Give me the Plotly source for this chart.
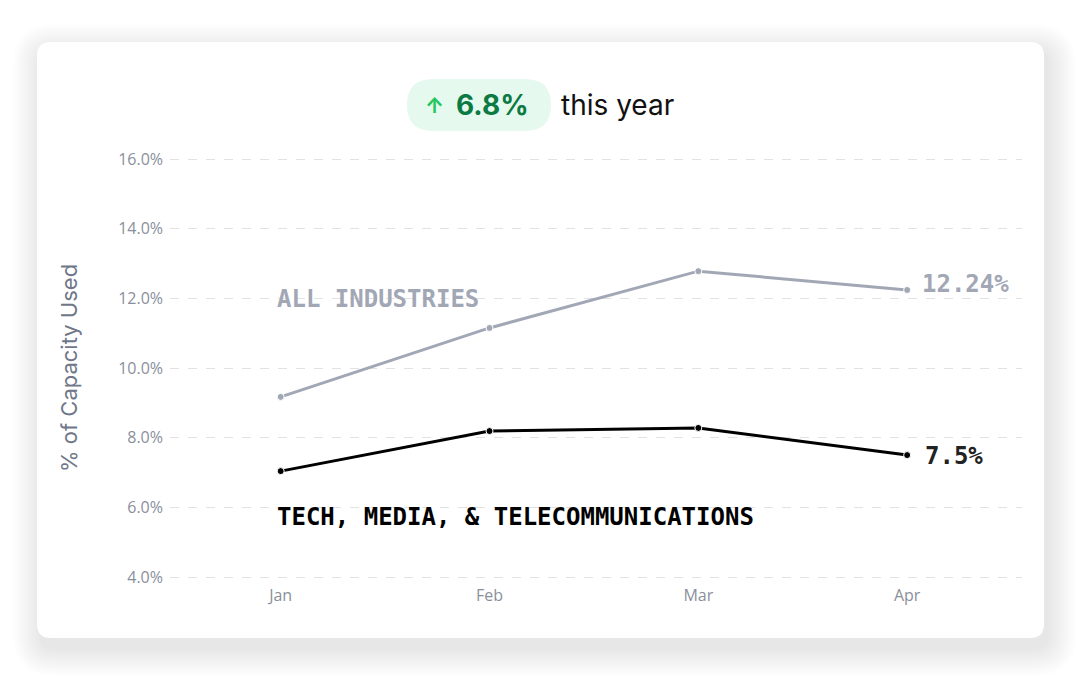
import plotly.graph_objects as go

# --- Data ---
months = ["Jan", "Feb", "Mar", "Apr"]
all_industries = [9.17, 11.15, 12.78, 12.24]
tech_media_telecom = [7.04, 8.19, 8.28, 7.5]

y_ticks = [4, 6, 8, 10, 12, 14, 16]
y_labels = [f"{v:.1f}%" for v in y_ticks]
headline_change = "6.8%"

# --- Plot area in pixels (used to place card / header in paper coords) ---
W, H = 1080, 682
Y16, Y4 = 159, 577
PPU = (Y4 - Y16) / 12
PL, PR, PT, PB = 170, 1022, 155, 581
y_range = [4 - (PB - Y4) / PPU, 16 + (Y16 - PT) / PPU]


def px(x):
    return (x - PL) / (PR - PL)


def py(y):
    return (PB - y) / (PB - PT)


def rounded_rect(x0, y0, x1, y1, r):
    # path in paper coords for a rounded rectangle given in pixels
    rx = r / (PR - PL)
    ry = r / (PB - PT)
    a, b, c, d = px(x0), px(x1), py(y0), py(y1)
    return (f"M {a + rx},{c} L {b - rx},{c} Q {b},{c} {b},{c - ry} "
            f"L {b},{d + ry} Q {b},{d} {b - rx},{d} L {a + rx},{d} "
            f"Q {a},{d} {a},{d + ry} L {a},{c - ry} Q {a},{c} {a + rx},{c} Z")


fig = go.Figure()

fig.add_trace(go.Scatter(
    x=months, y=all_industries, mode="lines+markers",
    line=dict(color="#a2a7b5", width=3),
    marker=dict(size=7, color="#a2a7b5", line=dict(color="white", width=1)),
    showlegend=False, hoverinfo="skip",
))
fig.add_trace(go.Scatter(
    x=months, y=tech_media_telecom, mode="lines+markers",
    line=dict(color="#000000", width=3),
    marker=dict(size=7, color="#000000", line=dict(color="white", width=1)),
    showlegend=False, hoverinfo="skip",
))

# --- Card with soft shadow ---
shapes = []
for i in range(12):
    g = 28 - i * 2.4
    shapes.append(dict(
        type="path", xref="paper", yref="paper", layer="below",
        path=rounded_rect(37 - g + 4, 42 - g + 10, 1044 + g + 4, 638 + g + 10, 14 + g),
        fillcolor="rgba(0,0,0,0.007)", line=dict(width=0),
    ))
shapes.append(dict(
    type="path", xref="paper", yref="paper", layer="below",
    path=rounded_rect(37, 42, 1044, 638, 14),
    fillcolor="white", line=dict(width=0),
))
# header pill
shapes.append(dict(
    type="path", xref="paper", yref="paper", layer="below",
    path=rounded_rect(407, 79, 551, 131, 26),
    fillcolor="#e6f9ee", line=dict(width=0),
))

mono = "DejaVu Sans Mono"
annotations = [
    dict(x=px(423), y=py(105), text="<b>↑</b>", font=dict(family="Inter", size=21, color="#22c55e"),
         xanchor="left"),
    dict(x=px(454), y=py(105), text=f"<b>{headline_change}</b>",
         font=dict(family="Inter", size=28, color="#0b7a43"), xanchor="left"),
    dict(x=px(559), y=py(105), text="this year",
         font=dict(family="Inter", size=28, color="#111111"), xanchor="left"),
    dict(x=px(54), y=py(368), text="% of Capacity Used", textangle=-90,
         font=dict(family="Inter", size=22, color="#6f7789")),
    dict(x=px(275), y=py(299), text="<b>ALL INDUSTRIES</b>",
         font=dict(family=mono, size=24, color="#a2a7b5"), xanchor="left"),
    dict(x=px(275), y=py(517), text="<b>TECH, MEDIA, & TELECOMMUNICATIONS</b>",
         font=dict(family=mono, size=24, color="#000000"), xanchor="left"),
    dict(x=px(920), y=py(284), text=f"<b>{all_industries[-1]:.2f}%</b>",
         font=dict(family=mono, size=24, color="#a2a7b5"), xanchor="left"),
    dict(x=px(923), y=py(456), text=f"<b>{tech_media_telecom[-1]}%</b>",
         font=dict(family=mono, size=24, color="#222222"), xanchor="left"),
]
for a in annotations:
    a.update(xref="paper", yref="paper", showarrow=False, yanchor="middle")

fig.update_layout(
    width=W, height=H,
    margin=dict(l=PL, r=W - PR, t=PT, b=H - PB),
    paper_bgcolor="white", plot_bgcolor="rgba(0,0,0,0)",
    shapes=shapes, annotations=annotations,
    xaxis=dict(range=[-0.53, 3.55], showgrid=False, zeroline=False, showline=False,
               ticklabelstandoff=3,
               tickfont=dict(family="Open Sans", size=16, color="#8a8f9c")),
    yaxis=dict(range=y_range, tickmode="array", tickvals=y_ticks, ticktext=y_labels,
               showgrid=True, gridcolor="#e2e2e2", griddash="dash", gridwidth=1,
               zeroline=False, showline=False, ticklabelstandoff=6,
               tickfont=dict(family="Open Sans", size=16, color="#8a8f9c")),
)

fig.write_html("out.html", config={"displayModeBar": False},
               post_script="document.body.style.margin='0';")
